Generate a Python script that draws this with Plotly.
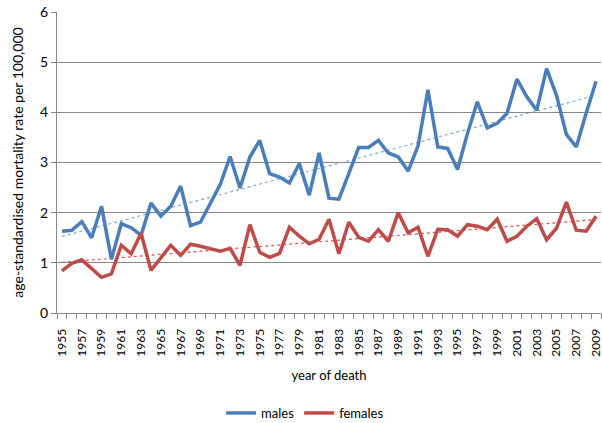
import plotly.graph_objects as go
import numpy as np

years = list(range(1955, 2010))

males = [1.63, 1.65, 1.82, 1.50, 2.13, 1.07, 1.78, 1.70, 1.55, 2.19,
         1.93, 2.13, 2.53, 1.74, 1.81, 2.18, 2.56, 3.12, 2.49, 3.11,
         3.44, 2.78, 2.71, 2.59, 2.98, 2.35, 3.19, 2.29, 2.27, 2.78,
         3.30, 3.30, 3.44, 3.19, 3.11, 2.83, 3.33, 4.45, 3.31, 3.28,
         2.86, 3.58, 4.21, 3.69, 3.78, 3.98, 4.66, 4.31, 4.04, 4.87,
         4.34, 3.56, 3.31, 3.98, 4.62]

females = [0.84, 0.99, 1.06, 0.88, 0.71, 0.78, 1.35, 1.18, 1.59, 0.85,
           1.10, 1.35, 1.15, 1.37, 1.33, 1.28, 1.23, 1.29, 0.95, 1.76,
           1.21, 1.11, 1.19, 1.71, 1.53, 1.38, 1.47, 1.87, 1.18, 1.81,
           1.51, 1.43, 1.66, 1.43, 2.00, 1.60, 1.71, 1.13, 1.67, 1.66,
           1.53, 1.76, 1.73, 1.66, 1.87, 1.43, 1.53, 1.73, 1.88, 1.46,
           1.69, 2.21, 1.65, 1.63, 1.93]

tick_years = list(range(1955, 2010, 2))

# linear trend lines (like excel's trendline)
yr = np.array(years)
m_fit = np.polyval(np.polyfit(yr, males, 1), yr)
f_fit = np.polyval(np.polyfit(yr, females, 1), yr)

font_name = "Lato, Liberation Sans, sans-serif"
grid_col = "#878787"

fig = go.Figure()

fig.add_trace(go.Scatter(x=years, y=m_fit, mode='lines', showlegend=False,
                         line=dict(color='#7FA7D8', width=1.2, dash='dot'), hoverinfo='skip'))
fig.add_trace(go.Scatter(x=years, y=f_fit, mode='lines', showlegend=False,
                         line=dict(color='#D9534F', width=1.2, dash='dot'), hoverinfo='skip'))

fig.add_trace(go.Scatter(x=years, y=males, mode='lines', name='males',
                         line=dict(color='#4A7EBB', width=3.5)))
fig.add_trace(go.Scatter(x=years, y=females, mode='lines', name='females',
                         line=dict(color='#BE4B48', width=3.5)))

fig.update_xaxes(
    range=[1954.5, 2009.5],
    tickvals=tick_years,
    ticktext=[str(y) for y in tick_years],
    tickangle=-90,
    ticks='',
    ticklabelstandoff=10,
    ticklabeloverflow='allow',
    showgrid=False,
    automargin=False,
    showline=True, linecolor=grid_col, linewidth=1,
    minor=dict(ticks='outside', tick0=1954.5, dtick=1, ticklen=5, tickcolor=grid_col, showgrid=False),
    tickfont=dict(size=12, color='black'),
    title=dict(text='year of death', font=dict(size=13, color='black'), standoff=15),
)
fig.update_yaxes(
    range=[0, 6],
    dtick=1,
    showgrid=True, gridcolor=grid_col, gridwidth=1,
    showline=True, linecolor=grid_col, linewidth=1,
    ticks='outside', ticklen=5, tickcolor=grid_col,
    ticklabeloverflow='allow',
    zeroline=False,
    automargin=False,
    tickfont=dict(size=14, color='black'),
    title=dict(text='age-standardised mortality rate per 100,000', font=dict(size=14, color='black'), standoff=13),
)

fig.update_layout(
    width=602, height=423,
    margin=dict(l=57, r=1, t=12, b=110),
    plot_bgcolor='white', paper_bgcolor='white',
    font=dict(family=font_name),
    legend=dict(orientation='h', x=0.456, xanchor='center',
                yref='container', y=10 / 423, yanchor='middle',
                font=dict(size=13, color='black'), itemwidth=30, tracegroupgap=0),
)

# drop the default 8px body margin so the figure sits at the page corner
fig.write_html("out.html", config={'displayModeBar': False},
               post_script="document.body.style.margin='0px';")
